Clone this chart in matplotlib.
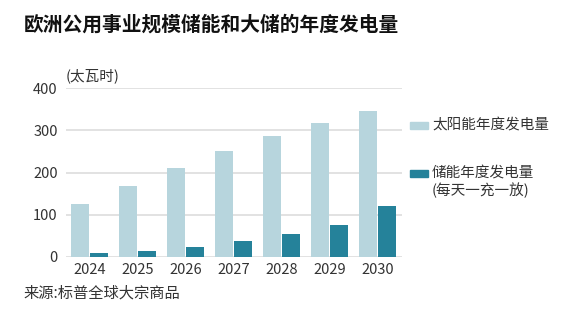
import matplotlib
matplotlib.use("Agg")
import matplotlib.pyplot as plt
import numpy as np
from matplotlib.patches import Rectangle

plt.rcParams['font.family'] = ['Noto Sans CJK SC', 'DejaVu Sans']

years = ["2024", "2025", "2026", "2027", "2028", "2029", "2030"]
solar = [125, 168, 211, 251, 286, 317, 345]
storage = [10, 14, 24, 38, 55, 76, 121]
yticks = [0, 100, 200, 300, 400]

solar_color = "#b7d5dd"
storage_color = "#25829a"
text_color = "#333333"

W, H = 569, 322
fig = plt.figure(figsize=(W / 100, H / 100), dpi=100)

# axes placed in pixel units
left, right, top, bottom = 66, 402, 88, 257
ax = fig.add_axes([left / W, 1 - bottom / H, (right - left) / W, (bottom - top) / H])

x = np.arange(len(years))
bw = 0.375
ax.bar(x - bw / 2 - 0.01, solar, width=bw, color=solar_color, zorder=3)
ax.bar(x + bw / 2 + 0.01, storage, width=bw, color=storage_color, zorder=3)

ax.set_xlim(-0.49, 6.51)
ax.set_ylim(0, 400)
ax.set_yticks(yticks)
ax.set_xticks(x)
ax.set_xticklabels(years)
ax.grid(axis="y", color="#dddddd", linewidth=1.2, zorder=0)
ax.set_axisbelow(True)
for s in ax.spines.values():
    s.set_visible(False)
ax.tick_params(axis="both", length=0, labelsize=10.5, colors=text_color, pad=4)
ax.tick_params(axis="y", pad=6)

# title, unit, source
fig.text(24 / W, 1 - 25 / H, "欧洲公用事业规模储能和大储的年度发电量",
         fontsize=14.2, fontweight="bold", color="#111111", va="center", ha="left")
fig.text(66 / W, 1 - 76 / H, "(太瓦时)", fontsize=10.5, color=text_color,
         va="center", ha="left")
fig.text(23 / W, 1 - 293 / H, "来源:标普全球大宗商品", fontsize=11,
         color=text_color, va="center", ha="left")

# legend
def legend_item(yc, color, lines):
    fig.patches.append(Rectangle((410 / W, 1 - (yc + 3.5) / H), 18 / W, 7 / H,
                                 transform=fig.transFigure, color=color))
    for i, t in enumerate(lines):
        fig.text(432 / W, 1 - (yc + i * 17) / H, t, fontsize=10.5,
                 color=text_color, va="center", ha="left")

legend_item(125, solar_color, ["太阳能年度发电量"])
legend_item(173, storage_color, ["储能年度发电量", "(每天一充一放)"])

fig.savefig("out.png", dpi=100)
